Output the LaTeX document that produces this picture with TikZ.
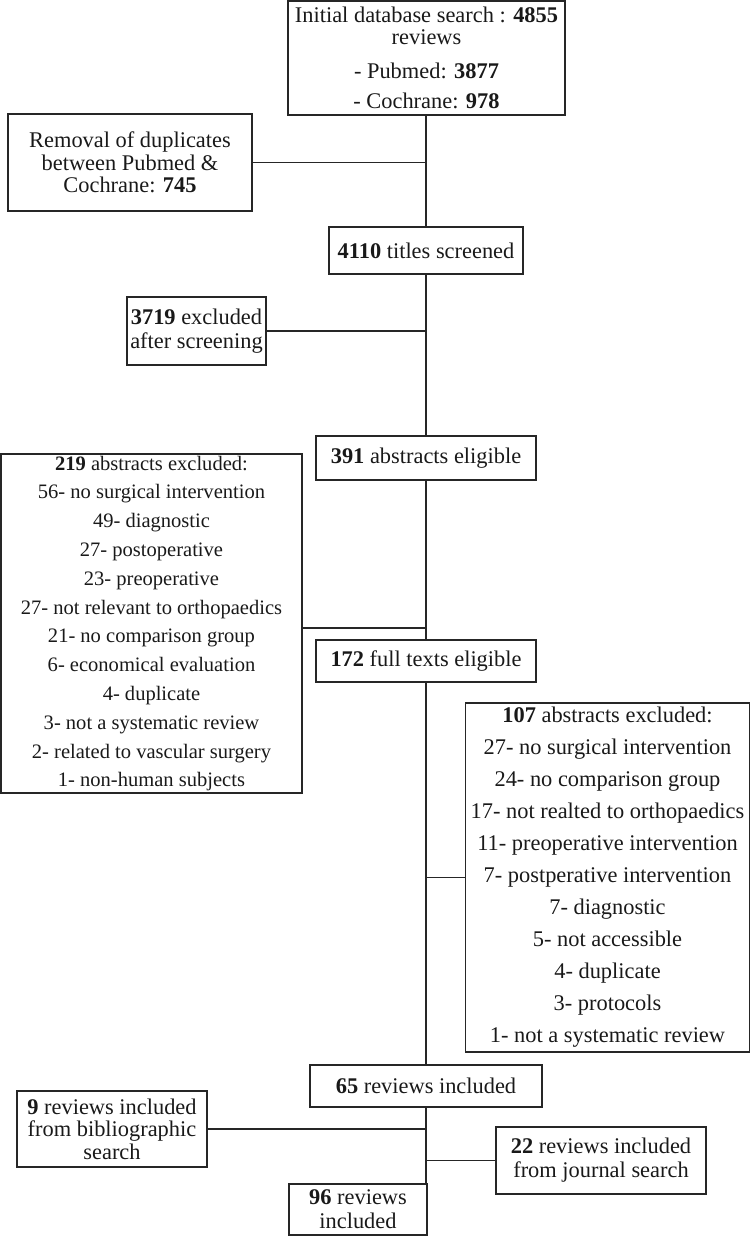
\documentclass[tikz,border=0pt]{standalone}
\usepackage{fontspec}
\setmainfont{Liberation Serif}
\begin{document}
\begin{tikzpicture}[x=0.75pt,y=-0.75pt]
\tikzset{
  box/.style={draw=black!85, line width=1.4pt, inner sep=0pt, align=center, text=black!90,
    font=\fontsize{16.8}{17}\selectfont},
  link/.style={draw=black!85, line width=1.4pt},
}
\useasboundingbox (0,0) rectangle (751,1236);

\node[box, minimum width=207.75pt, minimum height=85.5pt] (n1) at (426.5,58)
  {Initial database search : \textbf{4855}\\ reviews\\[8pt] - Pubmed: \textbf{3877}\\[6pt] - Cochrane: \textbf{978}};
\node[box, minimum width=183pt, minimum height=72.75pt] (n2) at (130,162.5)
  {Removal of duplicates\\ between Pubmed \&\\ Cochrane: \textbf{745}};
\node[box, minimum width=145.5pt, minimum height=35.25pt] (n3) at (426,250.5)
  {\textbf{4110} titles screened};
\node[box, minimum width=104.25pt, minimum height=51pt, font=\fontsize{16.8}{18}\selectfont] (n4) at (196.5,331)
  {\textbf{3719} excluded\\ after screening};
\node[box, minimum width=165pt, minimum height=33pt] (n5) at (426,458)
  {\textbf{391} abstracts eligible};
\node[box, minimum width=225.75pt, minimum height=254.25pt, font=\fontsize{15.4}{21.6}\selectfont] (n6) at (151.5,623.5)
  {\textbf{219} abstracts excluded:\\ 56- no surgical intervention\\ 49- diagnostic\\ 27- postoperative\\ 23- preoperative\\ 27- not relevant to orthopaedics\\ 21- no comparison group\\ 6- economical evaluation\\ 4- duplicate\\ 3- not a systematic review\\ 2- related to vascular surgery\\ 1- non-human subjects};
\node[box, minimum width=165pt, minimum height=31.5pt] (n7) at (426,661)
  {\textbf{172} full texts eligible};
\node[box, minimum width=213pt, minimum height=261.75pt, font=\fontsize{16.8}{24}\selectfont] (n8) at (607.5,877.5)
  {\textbf{107} abstracts excluded:\\ 27- no surgical intervention\\ 24- no comparison group\\ 17- not realted to orthopaedics\\ 11- preoperative intervention\\ 7- postperative intervention\\ 7- diagnostic\\ 5- not accessible\\ 4- duplicate\\ 3- protocols\\ 1- not a systematic review};
\node[box, minimum width=174pt, minimum height=31.5pt] (n9) at (426,1086)
  {\textbf{65} reviews included};
\node[box, minimum width=142.5pt, minimum height=57pt] (n10) at (112,1129)
  {\textbf{9} reviews included\\ from bibliographic\\ search};
\node[box, minimum width=157.5pt, minimum height=50.25pt, font=\fontsize{16.8}{18}\selectfont] (n11) at (601,1160.5)
  {\textbf{22} reviews included\\ from journal search};
\node[box, minimum width=103.5pt, minimum height=38.25pt, font=\fontsize{16.8}{18}\selectfont] (n12) at (358,1209.5)
  {\textbf{96} reviews\\ included};

% trunk
\draw[link] (n1.south -| n3.north) -- (n3.north);
\draw[link] (n3.south) -- (n5.north);
\draw[link] (n5.south) -- (n7.north);
\draw[link] (n7.south) -- (n9.north);
\draw[link] (n9.south) -- (n12.north east -| n9.south);

% side branches
\draw[link] (n2.east) -- (n2.east -| n3.north);
\draw[link] (n4.east) -- (n4.east -| n3.north);
\coordinate (j6) at (426,628);
\draw[link] (j6 -| n6.east) -- (j6);
\draw[link] (n8.west) -- (n8.west -| n7.south);
\draw[link] (n10.east) -- (n10.east -| n9.south);
\draw[link] (n11.west) -- (n11.west -| n9.south);
\end{tikzpicture}
\end{document}
